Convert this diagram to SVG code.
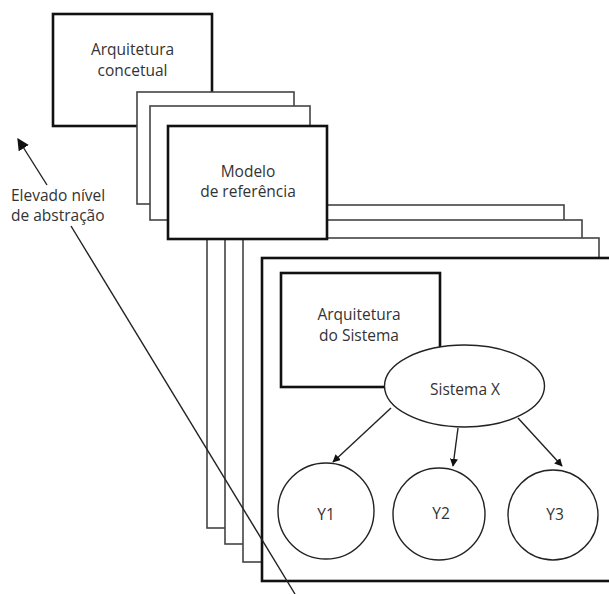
<svg xmlns="http://www.w3.org/2000/svg" width="609" height="594" viewBox="0 0 609 594">
  <style>
    .frame { fill: #fff; stroke: #111; stroke-width: 2.6; }
    .sheet { fill: #fff; stroke: #444; stroke-width: 1.6; }
    .shape { fill: #fff; stroke: #222; stroke-width: 1.4; }
    .lbl { font-family: "Open Sans", "Liberation Sans", sans-serif; font-size: 15.5px; fill: #333; text-anchor: middle; }
    .lbl-l { font-family: "Open Sans", "Liberation Sans", sans-serif; font-size: 15.5px; fill: #333; }
    .edge { fill: none; stroke: #222; stroke-width: 1.4; }
  </style>
  <defs>
    <marker id="head" viewBox="0 0 10 10" refX="9" refY="5" markerWidth="8" markerHeight="8" markerUnits="userSpaceOnUse" orient="auto">
      <path d="M0,0 L10,5 L0,10 z" fill="#111"/>
    </marker>
    <marker id="headBig" viewBox="0 0 10 10" refX="9" refY="5" markerWidth="12" markerHeight="12" markerUnits="userSpaceOnUse" orient="auto">
      <path d="M0,0 L10,5 L0,10 z" fill="#111"/>
    </marker>
  </defs>
  <rect width="609" height="594" fill="#fff"/>

  <!-- conceptual architecture -->
  <g id="arquitetura-concetual">
    <rect class="frame" x="53" y="14" width="159" height="112"/>
    <text class="lbl" x="132.5" y="55">Arquitetura</text>
    <text class="lbl" x="132.5" y="76">concetual</text>
  </g>

  <!-- reference model stack -->
  <g id="modelo-stack">
    <rect class="sheet" x="137" y="92" width="157" height="112"/>
    <rect class="sheet" x="150" y="106" width="160" height="114"/>
  </g>

  <!-- system stack (behind reference model) -->
  <g id="sistema-stack">
    <rect class="sheet" x="207" y="205" width="357" height="323"/>
    <rect class="sheet" x="225" y="220" width="357" height="324"/>
    <rect class="sheet" x="243" y="238" width="356" height="324"/>
  </g>

  <g id="modelo-referencia">
    <rect class="frame" x="168" y="126" width="159" height="113"/>
    <text class="lbl" x="248" y="177">Modelo</text>
    <text class="lbl" x="248" y="197">de referência</text>
  </g>

  <!-- system frame -->
  <g id="sistema-frame">
    <rect class="frame" x="262" y="258" width="360" height="323"/>
  </g>

  <g id="arquitetura-sistema">
    <rect class="frame" x="281" y="273" width="159" height="114"/>
    <text class="lbl" x="359" y="320">Arquitetura</text>
    <text class="lbl" x="359" y="341">do Sistema</text>
  </g>

  <g id="sistema-x">
    <ellipse class="shape" cx="464.5" cy="386" rx="80" ry="41"/>
    <text class="lbl" x="465" y="395">Sistema X</text>
  </g>

  <g id="y1">
    <circle class="shape" cx="326" cy="511" r="48"/>
    <text class="lbl" x="326" y="520">Y1</text>
  </g>
  <g id="y2">
    <circle class="shape" cx="439" cy="514" r="46"/>
    <text class="lbl" x="441" y="519">Y2</text>
  </g>
  <g id="y3">
    <circle class="shape" cx="553" cy="515" r="45"/>
    <text class="lbl" x="555" y="520">Y3</text>
  </g>

  <g id="abstracao">
    <text class="lbl-l" x="11" y="201">Elevado nível</text>
    <text class="lbl-l" x="11" y="221">de abstração</text>
  </g>

  <g id="connectors">
    <line class="edge" x1="391" y1="408" x2="333" y2="462" marker-end="url(#head)"/>
    <line class="edge" x1="458" y1="428" x2="453" y2="466" marker-end="url(#head)"/>
    <line class="edge" x1="518" y1="418" x2="562" y2="466" marker-end="url(#head)"/>
    <line class="edge" x1="47" y1="185" x2="18" y2="139" stroke-width="1.8" marker-end="url(#headBig)"/>
    <line class="edge" x1="71" y1="226" x2="295" y2="594" stroke-width="1.6"/>
  </g>
</svg>
